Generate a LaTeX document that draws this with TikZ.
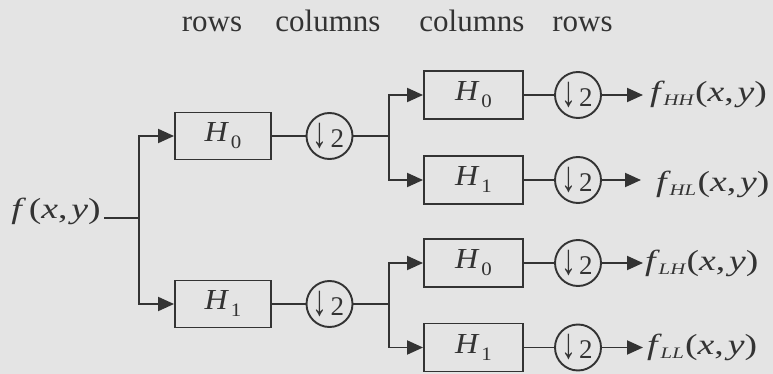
\documentclass[tikz,border=0pt]{standalone}
\usepackage{fontspec}
\setmainfont{Liberation Serif}
\usetikzlibrary{arrows.meta}
\definecolor{bgc}{HTML}{E4E4E4}
\definecolor{inkc}{HTML}{333333}
\newcommand{\Hsb}[1]{\scalebox{1.1}[1]{\textit{H}\kern1.5pt\raisebox{-7pt}{\fontsize{19}{19}\selectfont #1}}}
\newcommand{\fsb}[1]{\scalebox{1.3}[1]{\textit{f}\kern-1pt\raisebox{-4pt}{\fontsize{16}{16}\selectfont\itshape #1}\kern1pt(\textit{x},\kern3pt\textit{y})}}
\newcommand{\finp}{\scalebox{1.3}[1]{\textit{f}\kern2pt(\textit{x},\kern3pt\textit{y})}}
\newcommand{\dsb}{{\fontsize{27}{27}\selectfont\kern-2pt\scalebox{1.1}[1.6]{↓}\kern3pt2}}
\begin{document}
\begin{tikzpicture}[x=1pt,y=-1pt,
  every node/.style={text=inkc,font=\fontsize{29}{31}\selectfont},
  filt/.style={draw=inkc,line width=1.9pt,minimum width=96pt,minimum height=47pt,inner sep=0pt},
  filtb/.style={filt,minimum width=99pt,minimum height=48pt},
  dsmp/.style={draw=inkc,line width=1.9pt,circle,minimum size=46pt,inner sep=0pt},
  wire/.style={draw=inkc,line width=1.9pt},
  arr/.style={wire,-{Triangle[length=16pt,width=14pt]}},
  top/.style={anchor=base,font=\fontsize{31}{33}\selectfont},
  outl/.style={anchor=base west,inner sep=0pt}]
\fill[bgc] (0,0) rectangle (773,374);
\useasboundingbox (0,0) rectangle (773,374);
% header
\node[top] (t1) at (212,32) {rows};
\node[top] (t2) at (328,32) {columns};
\node[top] (t3) at (472,32) {columns};
\node[top] (t4) at (582.5,32) {rows};
% input
\node[anchor=base east,inner sep=0pt] (in) at (101,218) {\finp};
\coordinate (j0) at (139,218);
\coordinate (s0) at (104,218);
% level 1
\node[filt] (b0) at (223,136) {\Hsb{0}};
\node[filt] (b1) at (223,304) {\Hsb{1}};
\node[dsmp] (c0) at (329.5,136) {\dsb};
\node[dsmp] (c1) at (329.5,304) {\dsb};
\coordinate (j1) at (389,136);
\coordinate (j2) at (389,304);
% level 2
\node[filtb] (b00) at (473.5,95) {\Hsb{0}};
\node[filtb] (b01) at (473.5,180) {\Hsb{1}};
\node[filtb] (b10) at (473.5,263) {\Hsb{0}};
\node[filtb] (b11) at (473.5,347.5) {\Hsb{1}};
\node[dsmp] (c00) at (578,95) {\dsb};
\node[dsmp] (c01) at (578,180) {\dsb};
\node[dsmp] (c10) at (578,263) {\dsb};
\node[dsmp] (c11) at (578,347.5) {\dsb};
% outputs
\node[outl] (o00) at (650,102) {\fsb{HH}};
\node[outl] (o01) at (656,191) {\fsb{HL}};
\node[outl] (o10) at (645,270) {\fsb{LH}};
\node[outl] (o11) at (647,354.5) {\fsb{LL}};
\coordinate (e00) at (643,95);
\coordinate (e01) at (641,180);
\coordinate (e10) at (643,263);
\coordinate (e11) at (643,347.5);
% wires
\draw[wire] (s0) -- (j0);
\draw[arr] (j0) |- (b0.west);
\draw[arr] (j0) |- (b1.west);
\draw[wire] (b0) -- (c0);
\draw[wire] (b1) -- (c1);
\draw[wire] (c0) -- (j1);
\draw[wire] (c1) -- (j2);
\draw[arr] (j1) |- (b00.west);
\draw[arr] (j1) |- (b01.west);
\draw[arr] (j2) |- (b10.west);
\draw[arr] (j2) |- (b11.west);
\draw[wire] (b00) -- (c00);
\draw[wire] (b01) -- (c01);
\draw[wire] (b10) -- (c10);
\draw[wire] (b11) -- (c11);
\draw[arr] (c00) -- (e00);
\draw[arr] (c01) -- (e01);
\draw[arr] (c10) -- (e10);
\draw[arr] (c11) -- (e11);
\end{tikzpicture}
\end{document}
